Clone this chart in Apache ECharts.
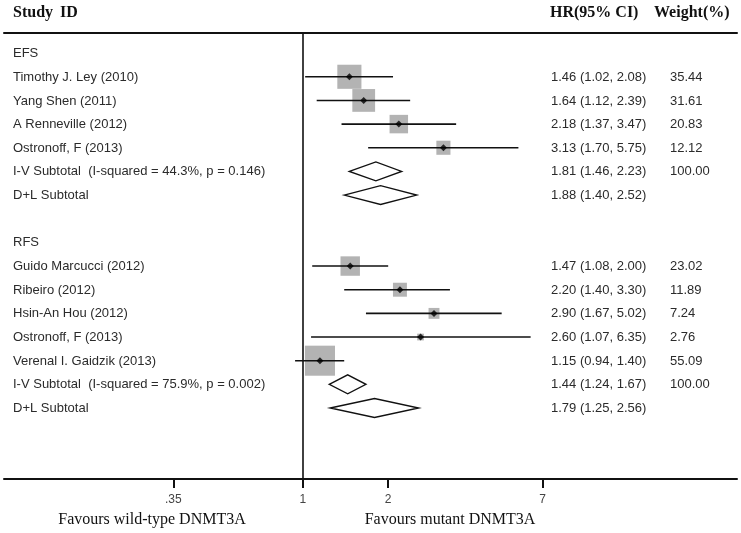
<!DOCTYPE html>
<html><head><meta charset="utf-8">
<script src="https://cdn.jsdelivr.net/npm/echarts@6/dist/echarts.min.js"></script>
<style>html,body{margin:0;padding:0;background:#fff}#chart{width:741px;height:533px}</style>
</head><body><div id="chart"></div>
<script>
// ---- data ----
const rowLabels = [
  'EFS',
  'Timothy J. Ley (2010)',
  'Yang Shen (2011)',
  'A Renneville (2012)',
  'Ostronoff, F (2013)',
  'I-V Subtotal  (I-squared = 44.3%, p = 0.146)',
  'D+L Subtotal',
  '',
  'RFS',
  'Guido Marcucci (2012)',
  'Ribeiro (2012)',
  'Hsin-An Hou (2012)',
  'Ostronoff, F (2013)',
  'Verenal I. Gaidzik (2013)',
  'I-V Subtotal  (I-squared = 75.9%, p = 0.002)',
  'D+L Subtotal'
];
const studyRows   = [1, 2, 3, 4, 9, 10, 11, 12, 13];
const studyHR     = [1.46, 1.64, 2.18, 3.13, 1.47, 2.20, 2.90, 2.60, 1.15];
const studyLo     = [1.02, 1.12, 1.37, 1.70, 1.08, 1.40, 1.67, 1.07, 0.94];
const studyHi     = [2.08, 2.39, 3.47, 5.75, 2.00, 3.30, 5.02, 6.35, 1.40];
const studyWeight = [35.44, 31.61, 20.83, 12.12, 23.02, 11.89, 7.24, 2.76, 55.09];

const pooledRows   = [5, 6, 14, 15];
const pooledHR     = [1.81, 1.88, 1.44, 1.79];
const pooledLo     = [1.46, 1.40, 1.24, 1.25];
const pooledHi     = [2.23, 2.52, 1.67, 2.56];
const pooledWeight = ['100.00', '', '100.00', ''];

const tickValues = [0.35, 1, 2, 7];
const tickLabels = ['.35', '1', '2', '7'];

// ---- text columns built from data ----
const hrText = rowLabels.map(() => '');
const wText = rowLabels.map(() => '');
const f2 = v => v.toFixed(2);
studyRows.forEach((r, i) => {
  hrText[r] = f2(studyHR[i]) + ' (' + f2(studyLo[i]) + ', ' + f2(studyHi[i]) + ')';
  wText[r] = f2(studyWeight[i]);
});
pooledRows.forEach((r, i) => {
  hrText[r] = f2(pooledHR[i]) + ' (' + f2(pooledLo[i]) + ', ' + f2(pooledHi[i]) + ')';
  wText[r] = pooledWeight[i];
});

const X_MIN = 0.0887, X_MAX = 33.85;
const TXT = '#2b2b2b';
const chart = echarts.init(document.getElementById('chart'), null, {renderer: 'canvas'});

const option = {
  animation: false,
  backgroundColor: '#fff',
  grid: {left: 4, right: 4, top: 33, bottom: 54, containLabel: false},
  xAxis: [{
    type: 'log', min: X_MIN, max: X_MAX, position: 'bottom',
    axisLine: {show: true, onZero: false, lineStyle: {color: '#111', width: 2}},
    axisTick: {show: true, length: 9, lineStyle: {color: '#111', width: 2}, customValues: tickValues},
    axisLabel: {show: true, customValues: tickValues, margin: 15, color: '#444', fontSize: 12,
      fontFamily: 'Liberation Sans, Arial, sans-serif',
      formatter: v => { const i = tickValues.findIndex(t => Math.abs(t - v) < 1e-6); return i >= 0 ? tickLabels[i] : ''; }},
    splitLine: {show: false}, minorTick: {show: false}
  }, {
    type: 'log', min: X_MIN, max: X_MAX, position: 'top',
    axisLine: {show: true, onZero: false, lineStyle: {color: '#111', width: 2}},
    axisTick: {show: false}, axisLabel: {show: false}, splitLine: {show: false}
  }],
  yAxis: {type: 'value', inverse: true, min: -0.85, max: 18, show: false},
  series: [
    // text columns
    {
      type: 'custom', silent: true, z: 1,
      data: rowLabels.map((t, i) => [1, i]),
      encode: {x: 0, y: 1},
      renderItem: (params, api) => {
        const row = api.value(1);
        const y = api.coord([1, row])[1] + 0.5;
        const font = '13px "Liberation Sans", Arial, sans-serif';
        return {type: 'group', children: [
          {type: 'text', x: 13, y: y, style: {text: rowLabels[row], font, fill: TXT, verticalAlign: 'middle', align: 'left'}},
          {type: 'text', x: 551, y: y, style: {text: hrText[row], font, fill: TXT, verticalAlign: 'middle', align: 'left'}},
          {type: 'text', x: 670, y: y, style: {text: wText[row], font, fill: TXT, verticalAlign: 'middle', align: 'left'}}
        ]};
      }
    },
    // weight boxes
    {
      type: 'scatter', z: 2, silent: true,
      symbol: 'rect',
      data: studyRows.map((r, i) => [studyHR[i], r, studyWeight[i]]),
      symbolSize: v => 4.05 * Math.sqrt(v[2]),
      itemStyle: {color: '#b3b3b3', opacity: 1}
    },
    // CI lines + null line
    {
      type: 'custom', z: 3, silent: true,
      data: studyRows.map((r, i) => [studyLo[i], studyHi[i], r]),
      encode: {x: [0, 1], y: 2},
      renderItem: (params, api) => {
        const p1 = api.coord([api.value(0), api.value(2)]);
        const p2 = api.coord([api.value(1), api.value(2)]);
        return {type: 'line', shape: {x1: p1[0], y1: p1[1], x2: p2[0], y2: p2[1]},
          style: {stroke: '#111', lineWidth: 1.6}};
      },
      markLine: {
        silent: true, symbol: 'none', animation: false,
        label: {show: false},
        lineStyle: {color: '#111', width: 1.6, type: 'solid'},
        data: [{xAxis: 1}]
      }
    },
    // point estimates
    {
      type: 'scatter', z: 4, silent: true,
      symbol: 'diamond', symbolSize: 7,
      data: studyRows.map((r, i) => [studyHR[i], r]),
      itemStyle: {color: '#000'}
    },
    // pooled diamonds
    {
      type: 'custom', z: 4, silent: true,
      data: pooledRows.map((r, i) => [pooledLo[i], pooledHR[i], pooledHi[i], r]),
      encode: {x: [0, 1, 2], y: 3},
      renderItem: (params, api) => {
        const row = api.value(3);
        const a = api.coord([api.value(0), row]);
        const b = api.coord([api.value(1), row - 0.4]);
        const c = api.coord([api.value(2), row]);
        const d = api.coord([api.value(1), row + 0.4]);
        return {type: 'polygon', shape: {points: [a, b, c, d]},
          style: {fill: '#fff', stroke: '#111', lineWidth: 1.4}};
      }
    }
  ],
  graphic: [
    {type: 'text', x: 13, y: 13, style: {text: 'Study', font: 'bold 16px "Liberation Serif", "Times New Roman", serif', fill: '#111', verticalAlign: 'middle'}},
    {type: 'text', x: 60, y: 13, style: {text: 'ID', font: 'bold 16px "Liberation Serif", "Times New Roman", serif', fill: '#111', verticalAlign: 'middle'}},
    {type: 'text', x: 550, y: 13, style: {text: 'HR(95% CI)', font: 'bold 16px "Liberation Serif", "Times New Roman", serif', fill: '#111', verticalAlign: 'middle'}},
    {type: 'text', x: 654, y: 13, style: {text: 'Weight(%)', font: 'bold 16px "Liberation Serif", "Times New Roman", serif', fill: '#111', verticalAlign: 'middle'}},
    {type: 'text', x: 152, y: 520, style: {text: 'Favours wild-type DNMT3A', font: '16px "Liberation Serif", "Times New Roman", serif', fill: '#111', verticalAlign: 'middle', align: 'center'}},
    {type: 'text', x: 450, y: 520, style: {text: 'Favours mutant DNMT3A', font: '16px "Liberation Serif", "Times New Roman", serif', fill: '#111', verticalAlign: 'middle', align: 'center'}}
  ]
};
chart.setOption(option);
</script>
</body></html>
